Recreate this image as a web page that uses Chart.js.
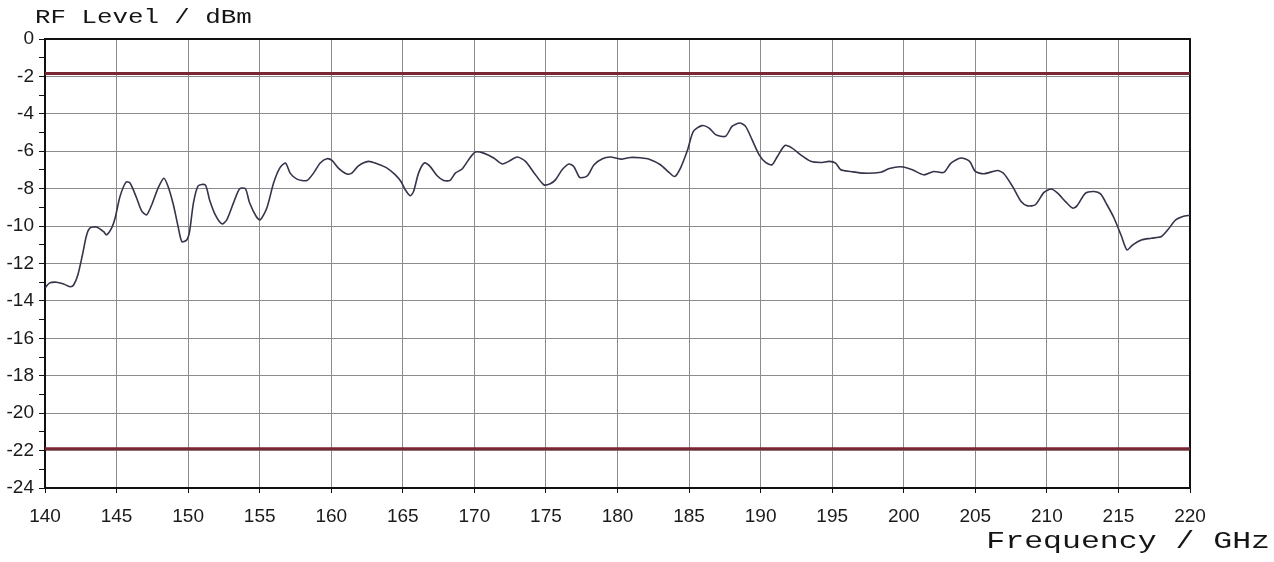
<!DOCTYPE html>
<html>
<head>
<meta charset="utf-8">
<script src="https://cdn.jsdelivr.net/npm/chart.js@4/dist/chart.umd.min.js"></script>
<style>
  html, body { margin: 0; padding: 0; background: #fff; }
  #wrap { width: 1274px; height: 562px; }
</style>
</head>
<body>
<div id="wrap"><canvas id="myChart" width="1274" height="562"></canvas></div>
<script>
// Frequency sweep (GHz) and measured RF level (dBm)
const freqs = [
    140.0, 140.3, 140.8, 141.3, 141.75, 142.0, 142.3, 142.6, 142.9, 143.15,
    143.6, 144.1, 144.3, 144.66, 144.9, 145.24, 145.66, 145.94, 146.4, 146.76,
    147.1, 147.46, 147.9, 148.3, 148.6, 148.97, 149.3, 149.56, 149.9, 150.1,
    150.37, 150.7, 151.2, 151.5, 151.9, 152.36, 152.7, 153.17, 153.6, 154.0,
    154.3, 154.76, 155.03, 155.5, 155.97, 156.4, 156.8, 157.13, 157.6, 158.3,
    158.76, 159.23, 159.7, 160.05, 160.5, 161.1, 161.44, 161.9, 162.6, 163.2,
    163.9, 164.48, 164.87, 165.17, 165.52, 165.75, 166.1, 166.5, 166.9, 167.4,
    167.85, 168.3, 168.67, 169.14, 169.6, 170.07, 170.65, 171.35, 171.94, 172.4,
    172.99, 173.57, 174.15, 174.85, 175.3, 175.66, 176.13, 176.6, 176.94, 177.3,
    177.45, 177.9, 178.36, 178.95, 179.5, 180.24, 180.9, 181.6, 182.3, 183.0,
    183.6, 184.0, 184.4, 184.9, 185.3, 185.9, 186.4, 186.85, 187.55, 188.0,
    188.55, 188.95, 189.4, 189.9, 190.35, 190.8, 191.17, 191.7, 192.2, 192.8,
    193.5, 194.2, 194.8, 195.24, 195.6, 196.3, 197.2, 198.4, 199.0, 199.8,
    200.6, 201.4, 202.1, 202.8, 203.3, 204.0, 204.6, 205.0, 205.6, 206.55,
    207.0, 207.6, 208.2, 208.65, 209.2, 209.8, 210.3, 210.75, 211.3, 211.8,
    212.1, 212.7, 213.3, 213.75, 214.2, 214.7, 215.2, 215.6, 216.0, 216.6,
    217.3, 218.0, 218.45, 219.0, 219.5, 220.0
];
const levels = [
    -13.3, -13.05, -13.0, -13.1, -13.24, -13.15, -12.6, -11.6, -10.5, -10.1,
    -10.05, -10.3, -10.47, -10.1, -9.57, -8.42, -7.65, -7.7, -8.5, -9.2,
    -9.4, -8.86, -7.97, -7.44, -7.88, -8.86, -10.03, -10.83, -10.74, -10.3,
    -8.77, -7.85, -7.8, -8.6, -9.4, -9.88, -9.67, -8.76, -8.0, -8.0,
    -8.77, -9.49, -9.67, -9.03, -7.7, -6.9, -6.63, -7.17, -7.49, -7.56,
    -7.17, -6.63, -6.4, -6.49, -6.9, -7.22, -7.17, -6.78, -6.54, -6.67,
    -6.9, -7.26, -7.62, -8.06, -8.38, -8.15, -7.17, -6.63, -6.81, -7.31,
    -7.56, -7.56, -7.17, -6.95, -6.45, -6.04, -6.1, -6.36, -6.68, -6.54,
    -6.31, -6.54, -7.13, -7.79, -7.74, -7.53, -6.99, -6.68, -6.81, -7.35,
    -7.42, -7.31, -6.72, -6.4, -6.31, -6.42, -6.33, -6.35, -6.45, -6.72,
    -7.13, -7.35, -6.9, -5.92, -4.94, -4.63, -4.76, -5.11, -5.2, -4.67,
    -4.49, -4.67, -5.38, -6.19, -6.6, -6.72, -6.28, -5.69, -5.83, -6.19,
    -6.54, -6.6, -6.54, -6.63, -6.99, -7.08, -7.17, -7.12, -6.92, -6.83,
    -6.99, -7.26, -7.08, -7.13, -6.63, -6.36, -6.54, -7.08, -7.2, -7.03,
    -7.2, -7.88, -8.69, -8.92, -8.86, -8.2, -8.02, -8.24, -8.69, -9.04,
    -8.92, -8.24, -8.15, -8.28, -8.86, -9.58, -10.52, -11.27, -11.0, -10.74,
    -10.65, -10.56, -10.2, -9.67, -9.49, -9.42
];

// Limit lines
const limitFreqs = [140, 220];
const upperLimit = [-1.85, -1.85];
const lowerLimit = [-21.9, -21.9];

// Axis ranges and captions
const freqRange = [140, 220];
const levelRange = [-24, 0];
const yTitle = 'RF Level / dBm';
const xTitle = 'Frequency / GHz';

const toPoints = (xs, ys) => xs.map((x, i) => ({ x: x, y: ys[i] }));

// Courier-style captions, drawn a bit wider than the font's natural width
function drawCaption(ctx, text, x, y, size, stretch, align) {
    ctx.save();
    ctx.font = size + 'px "Liberation Mono", "Courier New", monospace';
    ctx.fillStyle = '#151515';
    ctx.textAlign = align;
    ctx.textBaseline = 'alphabetic';
    ctx.translate(x, y);
    ctx.scale(stretch, 1);
    ctx.fillText(text, 0, 0);
    ctx.restore();
}

const captions = {
    id: 'captions',
    afterDraw(chart) {
        const area = chart.chartArea;
        drawCaption(chart.ctx, yTitle, area.left - 10, area.top - 16, 20, 1.29, 'left');
        drawCaption(chart.ctx, xTitle, chart.width - 4, area.bottom + 60, 23, 1.37, 'right');
    }
};

const tickFont = { family: '"Liberation Sans", Arial, sans-serif', size: 19 };

const ctx = document.getElementById('myChart').getContext('2d');
new Chart(ctx, {
    type: 'line',
    data: {
        datasets: [{
            label: 'RF Level',
            data: toPoints(freqs, levels),
            borderColor: '#34344a',
            borderWidth: 1.6,
            pointRadius: 0,
            tension: 0.25
        }, {
            label: 'Upper limit',
            data: toPoints(limitFreqs, upperLimit),
            borderColor: '#7a2633',
            borderWidth: 3,
            pointRadius: 0
        }, {
            label: 'Lower limit',
            data: toPoints(limitFreqs, lowerLimit),
            borderColor: '#7a2633',
            borderWidth: 3,
            pointRadius: 0
        }]
    },
    options: {
        responsive: false,
        animation: false,
        layout: { padding: { top: 39, right: 84, left: 0, bottom: 0 } },
        plugins: {
            legend: { display: false },
            tooltip: { enabled: false }
        },
        scales: {
            x: {
                type: 'linear',
                min: freqRange[0],
                max: freqRange[1],
                afterFit: scale => { scale.height = 74; },
                ticks: {
                    stepSize: 5,
                    color: '#1a1a1a',
                    font: tickFont,
                    padding: 12,
                    maxRotation: 0
                },
                grid: {
                    color: '#8c8c8c',
                    lineWidth: 1,
                    tickLength: 5,
                    tickColor: '#111'
                },
                border: { color: '#111', width: 2 }
            },
            xTop: {
                type: 'linear',
                position: 'top',
                min: freqRange[0],
                max: freqRange[1],
                afterFit: scale => { scale.height = 0; },
                ticks: { display: false },
                grid: { display: false },
                border: { color: '#111', width: 2 }
            },
            y: {
                min: levelRange[0],
                max: levelRange[1],
                afterFit: scale => { scale.width = 45; },
                ticks: {
                    stepSize: 1,
                    autoSkip: false,
                    color: '#1a1a1a',
                    font: tickFont,
                    padding: 5,
                    callback: v => (v % 2 === 0 ? v : '')
                },
                grid: {
                    color: c => (c.tick && c.tick.value % 2 !== 0 ? 'rgba(0,0,0,0)' : '#8c8c8c'),
                    lineWidth: 1,
                    tickLength: 6,
                    tickColor: '#111'
                },
                border: { color: '#111', width: 2 }
            },
            yRight: {
                position: 'right',
                min: levelRange[0],
                max: levelRange[1],
                afterFit: scale => { scale.width = 0; },
                ticks: { display: false },
                grid: { display: false },
                border: { color: '#111', width: 2 }
            }
        }
    },
    plugins: [captions]
});
</script>
</body>
</html>
